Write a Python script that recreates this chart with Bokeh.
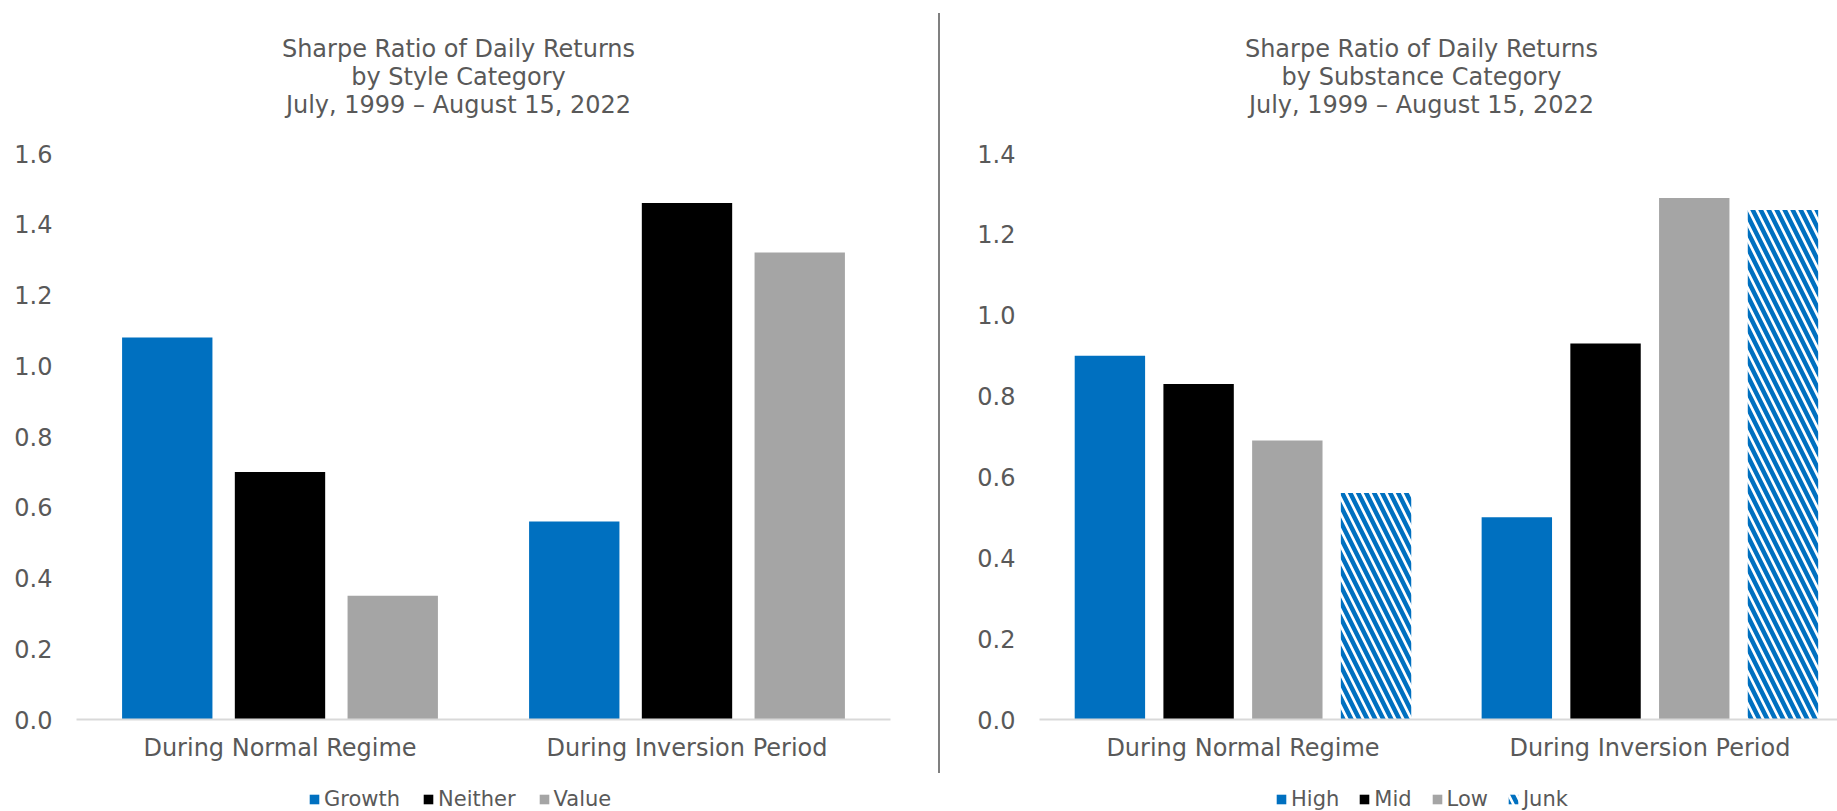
from bokeh.plotting import figure
from bokeh.models import (Range1d, FixedTicker, ColumnDataSource, Legend, LegendItem,
                          Div, NumeralTickFormatter, Label)
from bokeh.layouts import row, column
from bokeh.transform import dodge
from bokeh.embed import file_html
from bokeh.resources import INLINE

# ---------------- data ----------------
periods = ["During Normal Regime", "During Inversion Period"]

style_names = ["Growth", "Neither", "Value"]
growth = [1.08, 0.56]
neither = [0.70, 1.46]
value_style = [0.35, 1.32]

substance_names = ["High", "Mid", "Low", "Junk"]
high = [0.90, 0.50]
mid = [0.83, 0.93]
low = [0.69, 1.29]
junk = [0.56, 1.26]

left_ticks = [0.0, 0.2, 0.4, 0.6, 0.8, 1.0, 1.2, 1.4, 1.6]
right_ticks = [0.0, 0.2, 0.4, 0.6, 0.8, 1.0, 1.2, 1.4]

left_title = "Sharpe Ratio of Daily Returns\nby Style Category\nJuly, 1999 \u2013 August 15, 2022"
right_title = "Sharpe Ratio of Daily Returns\nby Substance Category\nJuly, 1999 \u2013 August 15, 2022"

# ---------------- style ----------------
FONT = "DejaVu Sans"
TXT = "#595959"
BLUE = "#0070C0"
BLACK = "#000000"
GRAY = "#A5A5A5"
TITLE_H = 130
LEG_H = 30
MAIN_H = 811 - TITLE_H - LEG_H

centers = [i + 0.5 for i in range(len(periods))]


def strip_fig(width, height, min_left, min_right):
    # pixel-based strip whose frame is aligned with the chart frame below/above it
    t = figure(width=width, height=height, x_range=Range1d(min_left, width - min_right),
               y_range=Range1d(0, height),
               output_backend="svg", toolbar_location=None, title=None,
               x_axis_location=None, y_axis_location=None, min_border=0,
               min_border_left=min_left, min_border_right=min_right)
    t.outline_line_color = None
    t.xgrid.visible = False
    t.ygrid.visible = False
    return t


def title_fig(width, min_left, min_right, cx, text):
    t = strip_fig(width, TITLE_H, min_left, min_right)
    t.add_layout(Label(x=cx, y=TITLE_H - 76, text=text,
                       text_align="center", text_baseline="middle",
                       text_font=FONT, text_font_size="24px", text_color=TXT,
                       text_line_height=1.0))
    return t


def base_fig(width, x_end, y_end, ticks, min_left, min_right):
    p = figure(width=width, height=MAIN_H, x_range=Range1d(0, x_end),
               y_range=Range1d(0, y_end),
               output_backend="svg", toolbar_location=None, title=None,
               min_border_left=min_left, min_border_right=min_right,
               min_border_top=153 - TITLE_H, min_border_bottom=MAIN_H - (153 - TITLE_H) - 566)
    p.outline_line_color = None
    p.xgrid.visible = False
    p.ygrid.visible = False

    p.yaxis.ticker = FixedTicker(ticks=ticks)
    p.yaxis.formatter = NumeralTickFormatter(format="0.0")
    p.yaxis.axis_line_color = None
    p.yaxis.major_tick_line_color = None
    p.yaxis.minor_tick_line_color = None
    p.yaxis.major_tick_out = 0
    p.yaxis.minor_tick_out = 0
    p.yaxis.major_label_text_font = FONT
    p.yaxis.major_label_text_font_size = "24px"
    p.yaxis.major_label_text_color = TXT
    p.yaxis.major_label_standoff = 24

    p.xaxis.ticker = FixedTicker(ticks=centers)
    p.xaxis.major_label_overrides = {c: lab for c, lab in zip(centers, periods)}
    p.xaxis.axis_line_color = "#D9D9D9"
    p.xaxis.axis_line_width = 2
    p.xaxis.major_tick_line_color = None
    p.xaxis.minor_tick_line_color = None
    p.xaxis.major_tick_out = 0
    p.xaxis.minor_tick_out = 0
    p.xaxis.major_label_text_font = FONT
    p.xaxis.major_label_text_font_size = "24px"
    p.xaxis.major_label_text_color = TXT
    p.xaxis.major_label_standoff = 14
    return p


def legend_fig(width, min_left, min_right, names, cols, styles, src, x, spacing):
    lf = strip_fig(width, LEG_H, min_left, min_right)
    items = []
    for n, c, st in zip(names, cols, styles):
        # swatch renderers share the chart's data but are not drawn themselves
        r = lf.vbar(x="x", top=c, width=0.2, source=src, line_color=None, visible=False, **st)
        items.append(LegendItem(label=n, renderers=[r]))
    leg = Legend(items=items, orientation="horizontal", location=(x, 0),
                 label_text_font=FONT, label_text_font_size="21px", label_text_color=TXT,
                 glyph_width=12, glyph_height=12, label_standoff=4, spacing=spacing,
                 padding=0, margin=0, border_line_color=None, background_fill_alpha=0,
                 inactive_fill_alpha=0, click_policy="none")
    lf.add_layout(leg)
    return lf


blue_st = dict(fill_color=BLUE)
black_st = dict(fill_color=BLACK)
gray_st = dict(fill_color=GRAY)
hatch_st = dict(fill_color="white", hatch_pattern="left_diagonal_line", hatch_color=BLUE,
                hatch_scale=16, hatch_weight=4.5)

# ---------------- left chart ----------------
L_LEFT, L_RIGHT = 76, 48
t1 = title_fig(938, L_LEFT, L_RIGHT, 458, left_title)
p1 = base_fig(938, 2.0, 1.6, left_ticks, L_LEFT, L_RIGHT)
src1 = ColumnDataSource(dict(x=centers, growth=growth, neither=neither, value=value_style))
w1 = 0.222
style_cols = ["growth", "neither", "value"]
style_styles = [blue_st, black_st, gray_st]
for col, off, st in zip(style_cols, [-0.277, 0.0, 0.277], style_styles):
    p1.vbar(x=dodge("x", off, range=p1.x_range), top=col, width=w1, source=src1,
            line_color=None, **st)
l1 = legend_fig(938, L_LEFT, L_RIGHT, style_names, style_cols, style_styles, src1, 232, 22)

# ---------------- right chart ----------------
R_LEFT, R_RIGHT = 99, 0
t2 = title_fig(897, R_LEFT, R_RIGHT, 481, right_title)
p2 = base_fig(897, 1.961, 1.4, right_ticks, R_LEFT, R_RIGHT)
src2 = ColumnDataSource(dict(x=centers, high=high, mid=mid, low=low, junk=junk))
w2 = 0.173
sub_cols = ["high", "mid", "low", "junk"]
sub_styles = [blue_st, black_st, gray_st, hatch_st]
for col, off, st in zip(sub_cols, [-0.327, -0.109, 0.109, 0.327], sub_styles):
    p2.vbar(x=dodge("x", off, range=p2.x_range), top=col, width=w2, source=src2,
            line_color=None, **st)
l2 = legend_fig(897, R_LEFT, R_RIGHT, substance_names, sub_cols, sub_styles, src2, 236, 19)

divider = Div(text="", width=2, height=760, margin=(13, 0, 0, 0),
              styles={"background-color": "#808080"})

layout = row(column(t1, p1, l1, spacing=0), divider, column(t2, p2, l2, spacing=0), spacing=0)
open("out.html", "w").write(file_html(layout, INLINE))
